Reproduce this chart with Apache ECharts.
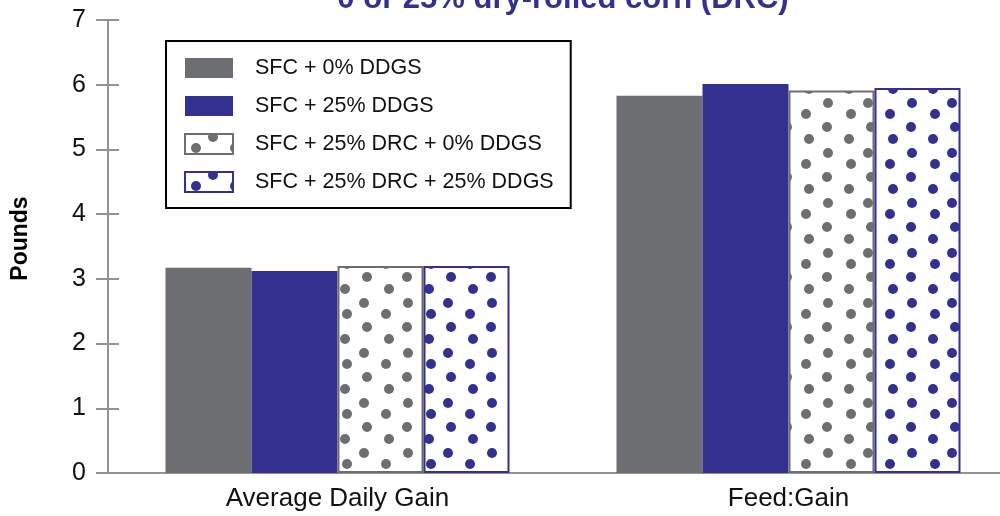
<!DOCTYPE html>
<html>
<head>
<meta charset="utf-8">
<script src="https://cdn.jsdelivr.net/npm/echarts@6/dist/echarts.min.js"></script>
<style>
  html, body { margin: 0; padding: 0; background: #fff; }
  #chart { width: 1000px; height: 516px; }
</style>
</head>
<body>
<div id="chart"></div>
<script>
const categories = ['Average Daily Gain', 'Feed:Gain']
const seriesNames = [
  'SFC + 0% DDGS',
  'SFC + 25% DDGS',
  'SFC + 25% DRC + 0% DDGS',
  'SFC + 25% DRC + 25% DDGS'
]
const sfc0 = [3.17, 5.83]
const sfc25 = [3.12, 6.01]
const drc0 = [3.20, 5.91]
const drc25 = [3.20, 5.95]
const yTicks = [0, 1, 2, 3, 4, 5, 6, 7]

const GRAY = '#6d6e71'
const NAVY = '#33308f'
const AXIS = '#939393'
const FONT = '"Liberation Sans", Arial, sans-serif'

// dotted fill for the DRC bars
const makeDots = (color) => {
  const c = document.createElement('canvas')
  c.width = 84
  c.height = 50
  const ctx = c.getContext('2d')
  ctx.fillStyle = '#fff'
  ctx.fillRect(0, 0, 84, 50)
  ctx.fillStyle = color
  const spots = [[28, 3], [72, 3], [11, 14], [50, 14], [31, 27], [71, 27], [9, 39], [53, 39]]
  for (const [x, y] of spots) {
    for (const dx of [-84, 0, 84]) {
      for (const dy of [-50, 0, 50]) {
        ctx.beginPath()
        ctx.arc(x + dx, y + dy, 5, 0, Math.PI * 2)
        ctx.fill()
      }
    }
  }
  return { image: c, repeat: 'repeat' }
}

const chart = echarts.init(document.getElementById('chart'))

const barBase = { type: 'bar', barWidth: 86, barGap: '0%', barCategoryGap: '24%' }

chart.setOption({
  animation: false,
  backgroundColor: '#fff',
  textStyle: { fontFamily: FONT },
  title: {
    text: '0 or 25% dry-rolled corn (DRC)',
    left: 558,
    textAlign: 'center',
    top: -21,
    textStyle: { color: NAVY, fontSize: 31, fontWeight: 'bold', fontFamily: FONT }
  },
  grid: { left: 112, width: 902, top: 20, bottom: 43, outerBoundsMode: 'none', containLabel: false },
  legend: {
    orient: 'vertical',
    left: 166,
    top: 41,
    padding: [16, 17, 15, 18],
    borderColor: '#000',
    borderWidth: 2,
    itemWidth: 48,
    itemHeight: 20,
    itemGap: 16,
    icon: 'rect',
    textStyle: { color: '#111', fontSize: 21.5, fontFamily: FONT, padding: [0, 0, 0, 17] },
    data: [
      { name: seriesNames[0] },
      { name: seriesNames[1] },
      { name: seriesNames[2], itemStyle: { borderColor: GRAY, borderWidth: 2 } },
      { name: seriesNames[3], itemStyle: { borderColor: NAVY, borderWidth: 2 } }
    ]
  },
  xAxis: {
    type: 'category',
    data: categories,
    axisLine: { lineStyle: { color: AXIS, width: 2 } },
    axisTick: { show: false },
    axisLabel: { color: '#111', fontSize: 26, margin: 13, fontFamily: FONT }
  },
  yAxis: [
    {
      type: 'value',
      min: 0,
      max: 7,
      interval: 1,
      offset: 4,
      name: 'Pounds',
      nameLocation: 'middle',
      nameGap: 76,
      nameTextStyle: { color: '#000', fontSize: 23, fontWeight: 'bold', fontFamily: FONT, padding: [0, 0, 0, 16] },
      axisLine: { show: true, lineStyle: { color: AXIS, width: 2 } },
      axisTick: { show: true, length: 12, lineStyle: { color: AXIS, width: 2 } },
      axisLabel: {
        color: '#111', fontSize: 25, margin: 22, fontFamily: FONT,
        formatter: (v) => yTicks.includes(v) ? String(v) : ''
      },
      splitLine: { show: false }
    },
    {
      type: 'value',
      min: 0,
      max: 7,
      interval: 1,
      offset: 4,
      position: 'left',
      axisLine: { show: false },
      axisTick: { show: true, inside: true, length: 11, lineStyle: { color: AXIS, width: 2 } },
      axisLabel: { show: false },
      splitLine: { show: false }
    }
  ],
  series: [
    { ...barBase, name: seriesNames[0], data: sfc0, itemStyle: { color: GRAY } },
    { ...barBase, name: seriesNames[1], data: sfc25, itemStyle: { color: NAVY } },
    { ...barBase, name: seriesNames[2], data: drc0,
      itemStyle: { color: makeDots(GRAY), borderColor: GRAY, borderWidth: 2 } },
    { ...barBase, name: seriesNames[3], data: drc25,
      itemStyle: { color: makeDots(NAVY), borderColor: NAVY, borderWidth: 2 } }
  ]
})
</script>
</body>
</html>
